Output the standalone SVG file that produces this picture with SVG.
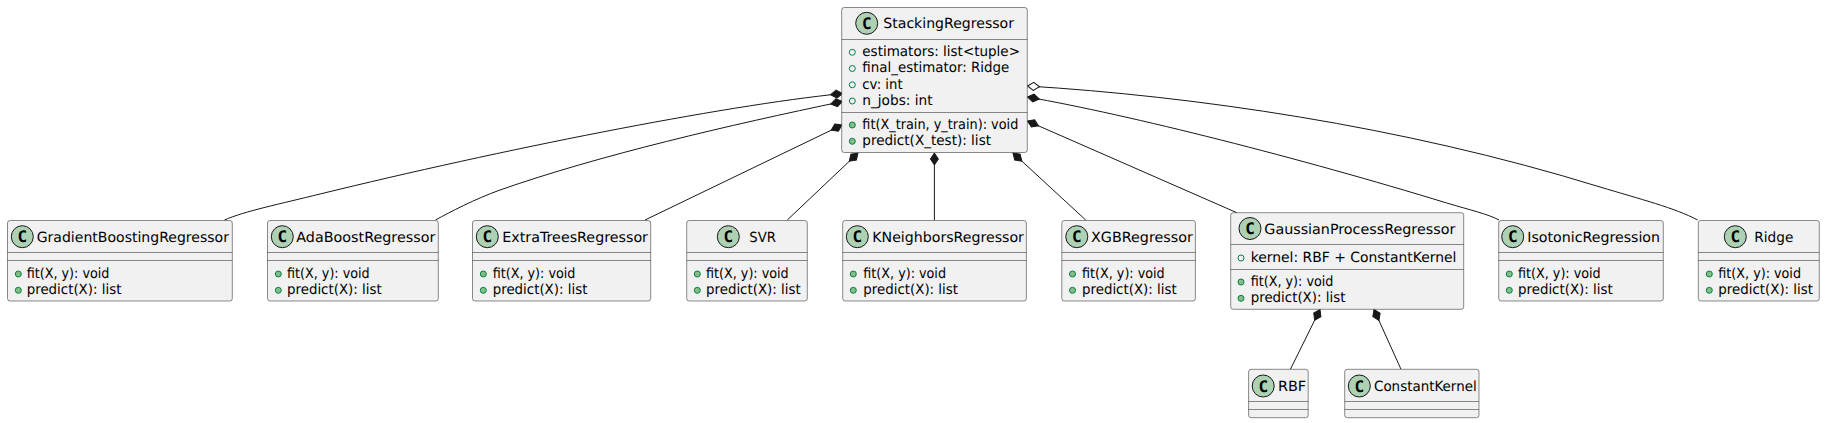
<svg xmlns="http://www.w3.org/2000/svg" width="1825" height="423" viewBox="0 0 1825 423">
<style>
text{font-family:"DejaVu Sans",sans-serif;font-size:14px;fill:#000;text-rendering:geometricPrecision}
.b{fill:#F1F1F1;stroke:#181818;stroke-width:.5}
.s{stroke:#181818;stroke-width:.5;fill:none}
.i{fill:#ADD1B2;stroke:#181818;stroke-width:1}
.c{font-family:"DejaVu Sans Mono",monospace;font-weight:bold;font-size:16px;text-anchor:middle}
.f{fill:none;stroke:#038048;stroke-width:1}
.m{fill:#84BE84;stroke:#038048;stroke-width:1}
.l{fill:none;stroke:#181818;stroke-width:1}
.d{marker-start:url(#fd)}
.o{marker-start:url(#od)}
</style>
<defs>
<marker id="fd" markerUnits="userSpaceOnUse" markerWidth="16" markerHeight="12" refX="1" refY="6" orient="auto" overflow="visible"><path d="M1,6 L7,2 L13,6 L7,10 Z" fill="#181818" stroke="#181818" stroke-width="1"/></marker>
<marker id="od" markerUnits="userSpaceOnUse" markerWidth="16" markerHeight="12" refX="1" refY="6" orient="auto" overflow="visible"><path d="M1,6 L7,2 L13,6 L7,10 Z" fill="#FFFFFF" stroke="#181818" stroke-width="1"/></marker>
</defs>
<g id="connectors">
<path class="l d" d="M842.5,93.5 C720,106 500,150 320,194 C280,204 245,211 224.4,220"/>
<path class="l d" d="M842.5,101.5 C730,125 600,155 500,190 C475,199 450,212 435.5,220"/>
<path class="l d" d="M842,125 L645,220"/>
<path class="l d" d="M858,153 L787.3,220"/>
<path class="l d" d="M934.4,153 L934.4,220"/>
<path class="l d" d="M1013,153 L1085.7,220"/>
<path class="l d" d="M1027.5,121 L1236.8,212.7"/>
<path class="l d" d="M1027.5,97 C1130,115 1300,158 1446.7,203 C1470,210 1488,214 1499,220"/>
<path class="l o" d="M1027.5,86 C1190,96 1400,125 1600,187 C1640,199 1675,208 1697.7,220"/>
<path class="l d" d="M1320,309.5 L1290.4,369.3"/>
<path class="l d" d="M1374,309.5 L1401,369.3"/>
</g>
<g id="StackingRegressor">
<rect class="b" x="841.7" y="7.5" width="185.6" height="145" rx="2.5"/>
<path class="s" d="M841.7,39.5H1027.3M841.7,112.5H1027.3"/>
<circle class="i" cx="866.7" cy="23.3" r="11"/><text class="c" x="866.7" y="29">C</text>
<text x="883.3" y="28" textLength="130.7" lengthAdjust="spacingAndGlyphs">StackingRegressor</text>
<circle class="f" cx="852.3" cy="52.3" r="3"/><text x="862.3" y="56" textLength="157.7" lengthAdjust="spacingAndGlyphs">estimators: list&lt;tuple&gt;</text>
<circle class="f" cx="852.3" cy="68.5" r="3"/><text x="862.3" y="72" textLength="147" lengthAdjust="spacingAndGlyphs">final_estimator: Ridge</text>
<circle class="f" cx="852.3" cy="84.8" r="3"/><text x="862.3" y="89" textLength="40.3" lengthAdjust="spacingAndGlyphs">cv: int</text>
<circle class="f" cx="852.3" cy="101" r="3"/><text x="862.3" y="105" textLength="70.3" lengthAdjust="spacingAndGlyphs">n_jobs: int</text>
<circle class="m" cx="852.3" cy="125" r="3"/><text x="862.3" y="129" textLength="156" lengthAdjust="spacingAndGlyphs">fit(X_train, y_train): void</text>
<circle class="m" cx="852.3" cy="141.3" r="3"/><text x="862.3" y="145" textLength="128.7" lengthAdjust="spacingAndGlyphs">predict(X_test): list</text>
</g>
<g id="GradientBoostingRegressor">
<rect class="b" x="7.5" y="220.5" width="224.8" height="80.5" rx="2.5"/>
<path class="s" d="M7.5,252.5H232.3M7.5,260.5H232.3"/>
<circle class="i" cx="22.3" cy="236.7" r="11"/><text class="c" x="22.3" y="242.4">C</text>
<text x="36.7" y="242" textLength="192.3" lengthAdjust="spacingAndGlyphs">GradientBoostingRegressor</text>
<circle class="m" cx="18.3" cy="274" r="3"/><text x="26.7" y="278" textLength="82.7" lengthAdjust="spacingAndGlyphs">fit(X, y): void</text>
<circle class="m" cx="18.3" cy="290.3" r="3"/><text x="26.7" y="294" textLength="94.7" lengthAdjust="spacingAndGlyphs">predict(X): list</text>
</g>
<g id="AdaBoostRegressor">
<rect class="b" x="267.5" y="220.5" width="170.8" height="80.5" rx="2.5"/>
<path class="s" d="M267.5,252.5H438.3M267.5,260.5H438.3"/>
<circle class="i" cx="282.3" cy="236.7" r="11"/><text class="c" x="282.3" y="242.4">C</text>
<text x="296.3" y="242" textLength="139" lengthAdjust="spacingAndGlyphs">AdaBoostRegressor</text>
<circle class="m" cx="278.3" cy="274" r="3"/><text x="287" y="278" textLength="82.7" lengthAdjust="spacingAndGlyphs">fit(X, y): void</text>
<circle class="m" cx="278.3" cy="290.3" r="3"/><text x="287" y="294" textLength="94.7" lengthAdjust="spacingAndGlyphs">predict(X): list</text>
</g>
<g id="ExtraTreesRegressor">
<rect class="b" x="472.5" y="220.5" width="178.2" height="80.5" rx="2.5"/>
<path class="s" d="M472.5,252.5H650.7M472.5,260.5H650.7"/>
<circle class="i" cx="487.3" cy="236.7" r="11"/><text class="c" x="487.3" y="242.4">C</text>
<text x="502.3" y="242" textLength="145.7" lengthAdjust="spacingAndGlyphs">ExtraTreesRegressor</text>
<circle class="m" cx="483.3" cy="274" r="3"/><text x="492.7" y="278" textLength="82.7" lengthAdjust="spacingAndGlyphs">fit(X, y): void</text>
<circle class="m" cx="483.3" cy="290.3" r="3"/><text x="492.7" y="294" textLength="94.7" lengthAdjust="spacingAndGlyphs">predict(X): list</text>
</g>
<g id="SVR">
<rect class="b" x="686.7" y="220.5" width="120.6" height="80.5" rx="2.5"/>
<path class="s" d="M686.7,252.5H807.3M686.7,260.5H807.3"/>
<circle class="i" cx="728.3" cy="236.7" r="11"/><text class="c" x="728.3" y="242.4">C</text>
<text x="749.3" y="242" textLength="26.7" lengthAdjust="spacingAndGlyphs">SVR</text>
<circle class="m" cx="697.3" cy="274" r="3"/><text x="706" y="278" textLength="82.7" lengthAdjust="spacingAndGlyphs">fit(X, y): void</text>
<circle class="m" cx="697.3" cy="290.3" r="3"/><text x="706" y="294" textLength="94.7" lengthAdjust="spacingAndGlyphs">predict(X): list</text>
</g>
<g id="KNeighborsRegressor">
<rect class="b" x="842.7" y="220.5" width="183.7" height="80.5" rx="2.5"/>
<path class="s" d="M842.7,252.5H1026.4M842.7,260.5H1026.4"/>
<circle class="i" cx="857.3" cy="236.7" r="11"/><text class="c" x="857.3" y="242.4">C</text>
<text x="872.3" y="242" textLength="151.6" lengthAdjust="spacingAndGlyphs">KNeighborsRegressor</text>
<circle class="m" cx="853.3" cy="274" r="3"/><text x="863.3" y="278" textLength="82.7" lengthAdjust="spacingAndGlyphs">fit(X, y): void</text>
<circle class="m" cx="853.3" cy="290.3" r="3"/><text x="863.3" y="294" textLength="94.7" lengthAdjust="spacingAndGlyphs">predict(X): list</text>
</g>
<g id="XGBRegressor">
<rect class="b" x="1061.8" y="220.5" width="133.6" height="80.5" rx="2.5"/>
<path class="s" d="M1061.8,252.5H1195.4M1061.8,260.5H1195.4"/>
<circle class="i" cx="1076.8" cy="236.7" r="11"/><text class="c" x="1076.8" y="242.4">C</text>
<text x="1091" y="242" textLength="101.8" lengthAdjust="spacingAndGlyphs">XGBRegressor</text>
<circle class="m" cx="1072.5" cy="274" r="3"/><text x="1082" y="278" textLength="82.7" lengthAdjust="spacingAndGlyphs">fit(X, y): void</text>
<circle class="m" cx="1072.5" cy="290.3" r="3"/><text x="1082" y="294" textLength="94.7" lengthAdjust="spacingAndGlyphs">predict(X): list</text>
</g>
<g id="GaussianProcessRegressor">
<rect class="b" x="1230.7" y="212.7" width="233" height="96.6" rx="2.5"/>
<path class="s" d="M1230.7,244.5H1463.7M1230.7,269.5H1463.7"/>
<circle class="i" cx="1250" cy="228.5" r="11"/><text class="c" x="1250" y="234.2">C</text>
<text x="1264.3" y="234" textLength="191" lengthAdjust="spacingAndGlyphs">GaussianProcessRegressor</text>
<circle class="f" cx="1241" cy="258" r="3"/><text x="1250.7" y="262" textLength="205.7" lengthAdjust="spacingAndGlyphs">kernel: RBF + ConstantKernel</text>
<circle class="m" cx="1241" cy="282" r="3"/><text x="1250.7" y="286" textLength="82.7" lengthAdjust="spacingAndGlyphs">fit(X, y): void</text>
<circle class="m" cx="1241" cy="298.3" r="3"/><text x="1250.7" y="302" textLength="94.7" lengthAdjust="spacingAndGlyphs">predict(X): list</text>
</g>
<g id="RBF">
<rect class="b" x="1248.6" y="369.3" width="59.6" height="48.4" rx="2.5"/>
<path class="s" d="M1248.6,401.5H1308.2M1248.6,409.5H1308.2"/>
<circle class="i" cx="1263.2" cy="386" r="11"/><text class="c" x="1263.2" y="391.7">C</text>
<text x="1277.9" y="391" textLength="28.2" lengthAdjust="spacingAndGlyphs">RBF</text>
</g>
<g id="ConstantKernel">
<rect class="b" x="1344.7" y="369.3" width="134.3" height="48.4" rx="2.5"/>
<path class="s" d="M1344.7,401.5H1479M1344.7,409.5H1479"/>
<circle class="i" cx="1359.3" cy="386" r="11"/><text class="c" x="1359.3" y="391.7">C</text>
<text x="1374" y="391" textLength="102.7" lengthAdjust="spacingAndGlyphs">ConstantKernel</text>
</g>
<g id="IsotonicRegression">
<rect class="b" x="1498.7" y="220.5" width="164.6" height="80.5" rx="2.5"/>
<path class="s" d="M1498.7,252.5H1663.3M1498.7,260.5H1663.3"/>
<circle class="i" cx="1512.7" cy="236.7" r="11"/><text class="c" x="1512.7" y="242.4">C</text>
<text x="1527.3" y="242" textLength="132.7" lengthAdjust="spacingAndGlyphs">IsotonicRegression</text>
<circle class="m" cx="1509.3" cy="274" r="3"/><text x="1518" y="278" textLength="82.7" lengthAdjust="spacingAndGlyphs">fit(X, y): void</text>
<circle class="m" cx="1509.3" cy="290.3" r="3"/><text x="1518" y="294" textLength="94.7" lengthAdjust="spacingAndGlyphs">predict(X): list</text>
</g>
<g id="Ridge">
<rect class="b" x="1698.3" y="220.5" width="121" height="80.5" rx="2.5"/>
<path class="s" d="M1698.3,252.5H1819.3M1698.3,260.5H1819.3"/>
<circle class="i" cx="1735.3" cy="236.7" r="11"/><text class="c" x="1735.3" y="242.4">C</text>
<text x="1754.3" y="242" textLength="39" lengthAdjust="spacingAndGlyphs">Ridge</text>
<circle class="m" cx="1709.3" cy="274" r="3"/><text x="1718.3" y="278" textLength="82.7" lengthAdjust="spacingAndGlyphs">fit(X, y): void</text>
<circle class="m" cx="1709.3" cy="290.3" r="3"/><text x="1718.3" y="294" textLength="94.7" lengthAdjust="spacingAndGlyphs">predict(X): list</text>
</g>
</svg>
